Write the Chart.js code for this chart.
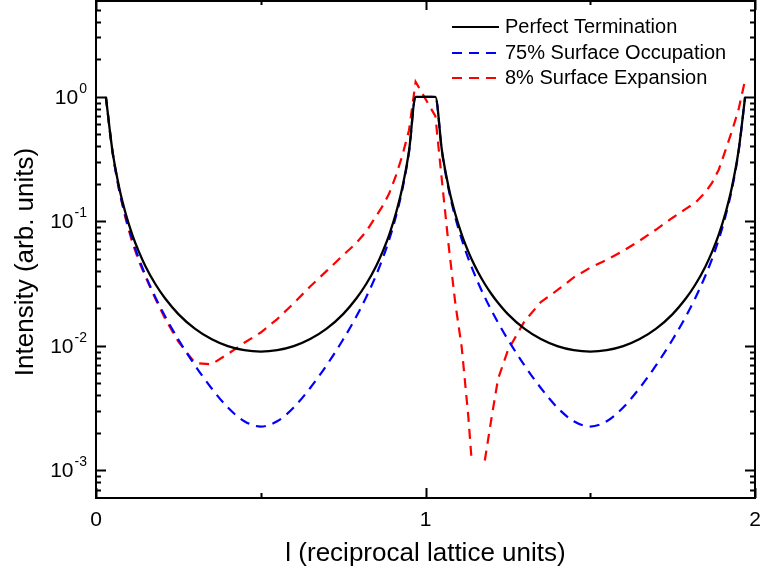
<!DOCTYPE html>
<html>
<head>
<meta charset="utf-8">
<script src="https://cdn.jsdelivr.net/npm/chart.js@4.4.1/dist/chart.umd.min.js"></script>
<style>
  html, body { margin: 0; padding: 0; background: #ffffff; }
  #wrap { width: 760px; height: 581px; }
</style>
</head>
<body>
<div id="wrap"><canvas id="c" width="760" height="581"></canvas></div>
<script>
// ---- data ----
const lValues = [
  0.03, 0.05, 0.07, 0.09, 0.11, 0.13, 0.15, 0.18, 0.21, 0.25, 0.30, 0.35, 0.40, 0.45, 0.50,
  0.55, 0.60, 0.65, 0.70, 0.75, 0.79, 0.82, 0.85, 0.87, 0.89, 0.91, 0.93, 0.95, 0.97,
  1.03, 1.05, 1.07, 1.09, 1.11, 1.13, 1.14, 1.16, 1.18, 1.20, 1.22, 1.25, 1.30, 1.35, 1.40,
  1.45, 1.50, 1.55, 1.60, 1.65, 1.70, 1.75, 1.79, 1.82, 1.85, 1.87, 1.89, 1.91, 1.93, 1.95, 1.97
];
const perfectTermination = [
  1, 0.368, 0.189, 0.1156, 0.0784, 0.0571, 0.0437, 0.0314, 0.0240, 0.0180, 0.01375, 0.01134, 0.00995, 0.00923, 0.0090,
  0.00923, 0.00995, 0.01134, 0.01375, 0.0180, 0.0240, 0.0314, 0.0437, 0.0571, 0.0784, 0.1156, 0.189, 0.368, 1,
  1, 0.368, 0.189, 0.1156, 0.0784, 0.0571, 0.0496, 0.0388, 0.0314, 0.0261, 0.0222, 0.0180, 0.01375, 0.01134, 0.00995,
  0.00923, 0.0090, 0.00923, 0.00995, 0.01134, 0.01375, 0.0180, 0.0240, 0.0314, 0.0437, 0.0571, 0.0784, 0.1156, 0.189, 0.368, 1
];
const surfaceOccupation75 = [
  1, 0.361, 0.182, 0.1089, 0.0717, 0.0503, 0.0369, 0.0246, 0.0172, 0.01125, 0.0070, 0.00459, 0.0032, 0.00248, 0.00225,
  0.00248, 0.0032, 0.00459, 0.0070, 0.01125, 0.0172, 0.0246, 0.0369, 0.0503, 0.0717, 0.1089, 0.182, 0.361, 1,
  1, 0.361, 0.182, 0.1089, 0.0717, 0.0503, 0.0429, 0.0320, 0.0246, 0.0193, 0.0154, 0.01125, 0.0070, 0.00459, 0.0032,
  0.00248, 0.00225, 0.00248, 0.0032, 0.00459, 0.0070, 0.01125, 0.0172, 0.0246, 0.0369, 0.0503, 0.0717, 0.1089, 0.182, 0.361, 1
];
const surfaceExpansion8 = [
  1, 0.36, 0.178, 0.105, 0.068, 0.048, 0.036, 0.024, 0.0165, 0.0108, 0.0073, 0.0071, 0.0086, 0.0106, 0.0128,
  0.0164, 0.0220, 0.030, 0.040, 0.0535, 0.067, 0.083, 0.110, 0.133, 0.168, 0.232, 0.34, 0.54, 1.32,
  0.70, 0.21, 0.065, 0.0225, 0.0097, 0.0027, 0.0012, null, 0.0012, 0.0026, 0.0054, 0.0092, 0.0157, 0.0225, 0.028,
  0.0355, 0.0425, 0.049, 0.058, 0.070, 0.086, 0.107, 0.126, 0.142, 0.172, 0.205, 0.26, 0.37, 0.53, 0.79, 1.37
];
const seriesLabels = ['Perfect Termination', '75% Surface Occupation', '8% Surface Expansion'];
const xMajorTicks = [0, 1, 2];
const xMinorTicks = [0.5, 1.5];
const xTickLabels = ['0', '1', '2'];
const yMajorTicks = [1e-3, 1e-2, 1e-1, 1];
const yTickExponents = ['-3', '-2', '-1', '0'];
const xTitle = 'l (reciprocal lattice units)';
const yTitle = 'Intensity (arb. units)';

const FONT = '"Liberation Sans", Arial, Helvetica, sans-serif';

function pts(arr) { return lValues.map((l, i) => ({ x: l, y: arr[i] })); }

const framePlugin = {
  id: 'frame',
  afterDraw(chart) {
    const ctx = chart.ctx;
    const a = chart.chartArea;
    const xs = chart.scales.x, ys = chart.scales.y;
    ctx.save();
    ctx.strokeStyle = '#000';
    ctx.lineWidth = 2;
    ctx.setLineDash([]);
    ctx.strokeRect(a.left, a.top + 1, a.right - a.left, a.bottom - a.top - 1);
    // y ticks (inward on both sides)
    const yMin = ys.min, yMax = ys.max;
    function hTick(v, len) {
      const y = Math.round(ys.getPixelForValue(v)) + 0.5;
      ctx.beginPath();
      ctx.moveTo(a.left, y); ctx.lineTo(a.left + len, y);
      ctx.moveTo(a.right, y); ctx.lineTo(a.right - len, y);
      ctx.stroke();
    }
    for (let e = -4; e <= 1; e++) {
      for (let m = 1; m <= 9; m++) {
        const v = m * Math.pow(10, e);
        if (v < yMin * 1.0001 || v > yMax * 0.9999) continue;
        hTick(v, m === 1 ? 10 : 5);
      }
    }
    function vTick(v, len) {
      const x = Math.round(xs.getPixelForValue(v)) + 0.5;
      ctx.beginPath();
      ctx.moveTo(x, a.bottom); ctx.lineTo(x, a.bottom - len);
      ctx.moveTo(x, a.top); ctx.lineTo(x, a.top + len);
      ctx.stroke();
    }
    xMajorTicks.forEach(v => vTick(v, 10));
    xMinorTicks.forEach(v => vTick(v, 5));

    // tick labels
    ctx.fillStyle = '#000';
    ctx.textBaseline = 'middle';
    ctx.textAlign = 'center';
    ctx.font = '21px ' + FONT;
    xMajorTicks.forEach((v, i) => {
      ctx.fillText(xTickLabels[i], xs.getPixelForValue(v), a.bottom + 22);
    });
    yMajorTicks.forEach((v, i) => {
      const y = ys.getPixelForValue(v);
      const right = 87;
      ctx.font = '14px ' + FONT;
      ctx.textAlign = 'right';
      const ew = ctx.measureText(yTickExponents[i]).width;
      ctx.fillText(yTickExponents[i], right, y - 8);
      ctx.font = '21px ' + FONT;
      ctx.fillText('10', right - ew - 1, y + 1);
    });

    // axis titles
    ctx.font = '26px ' + FONT;
    ctx.textAlign = 'center';
    ctx.fillText(xTitle, (a.left + a.right) / 2, 554);
    ctx.save();
    ctx.translate(26, 262);
    ctx.rotate(-Math.PI / 2);
    ctx.fillText(yTitle, 0, 0);
    ctx.restore();

    // legend
    ctx.font = '20px ' + FONT;
    ctx.textAlign = 'left';
    const rows = [27, 53, 78];
    chart.data.datasets.forEach((ds, i) => {
      const y = rows[i];
      ctx.strokeStyle = ds.borderColor;
      ctx.lineWidth = 2;
      ctx.setLineDash(ds.borderDash || []);
      ctx.beginPath();
      ctx.moveTo(452, y); ctx.lineTo(499, y);
      ctx.stroke();
      ctx.setLineDash([]);
      ctx.fillStyle = '#000';
      ctx.fillText(ds.label, 505, y);
    });
    ctx.restore();
  }
};

new Chart(document.getElementById('c'), {
  type: 'line',
  data: {
    datasets: [
      { label: seriesLabels[0], data: pts(perfectTermination), borderColor: '#000000', borderWidth: 2.3,
        pointRadius: 0, fill: false, cubicInterpolationMode: 'monotone' },
      { label: seriesLabels[1], data: pts(surfaceOccupation75), borderColor: '#0000ff', borderWidth: 2.2,
        borderDash: [10, 7], pointRadius: 0, fill: false, cubicInterpolationMode: 'monotone' },
      { label: seriesLabels[2], data: pts(surfaceExpansion8), borderColor: '#ff0000', borderWidth: 2.2,
        borderDash: [10, 7], pointRadius: 0, fill: false, tension: 0, spanGaps: false }
    ]
  },
  options: {
    responsive: false,
    animation: false,
    devicePixelRatio: 1,
    layout: { padding: { left: 96, right: 5, top: 0, bottom: 83 } },
    scales: {
      x: { type: 'linear', min: 0, max: 2, display: false },
      y: { type: 'logarithmic', min: 6e-4, max: 6, display: false }
    },
    plugins: { legend: { display: false }, tooltip: { enabled: false } }
  },
  plugins: [framePlugin]
});
</script>
</body>
</html>
